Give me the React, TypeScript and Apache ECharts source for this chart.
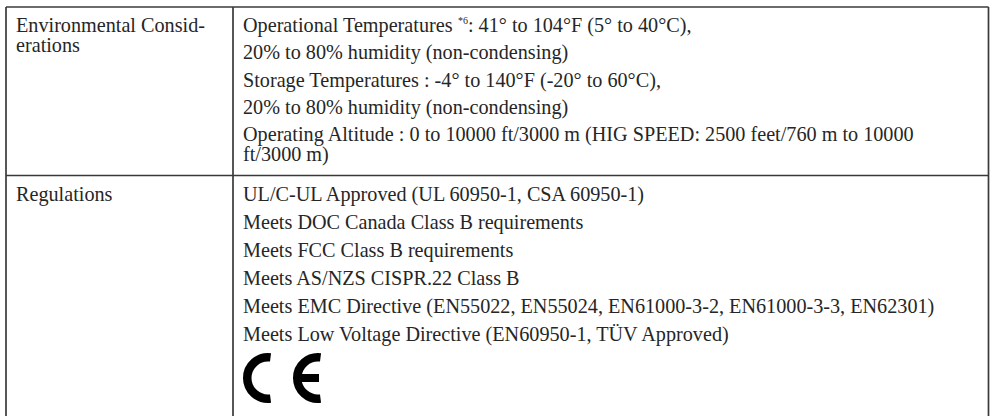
import React, { useEffect, useRef } from "react";
import * as echarts from "echarts";

const rowLabels = ["Environmental Consid-\nerations", "Regulations"];
const envLines = [
  "Operational Temperatures {sup|*6}: 41° to 104°F (5° to 40°C),",
  "20% to 80% humidity (non-condensing)",
  "Storage Temperatures : -4° to 140°F (-20° to 60°C),",
  "20% to 80% humidity (non-condensing)",
  "Operating Altitude : 0 to 10000 ft/3000 m (HIG SPEED: 2500 feet/760 m to 10000\nft/3000 m)",
];
const regLines = [
  "UL/C-UL Approved (UL 60950-1, CSA 60950-1)",
  "Meets DOC Canada Class B requirements",
  "Meets FCC Class B requirements",
  "Meets AS/NZS CISPR.22 Class B",
  "Meets EMC Directive (EN55022, EN55024, EN61000-3-2, EN61000-3-3, EN62301)",
  "Meets Low Voltage Directive (EN60950-1, TÜV Approved)",
];

const FONT = "'Liberation Serif', 'Times New Roman', serif";
const FS = 20.2;
const LH = 20;
const TEXT_COLOR = "#262626";
const LINE_COLOR = "#3a3a3a";

export default function App() {
  const ref = useRef<HTMLDivElement>(null);
  useEffect(() => {
    if (!ref.current) return;
    const chart = echarts.init(ref.current, null, { renderer: "svg" });
    const L = 6, R = 988.5, T = 7, B = 420, COL = 233, ROW = 175.5;
    const leftX = 16, rightX = 243;
    const envStart = 25.3, envStep = 27.1;
    const regStart = 194, regStep = 28;

    const textEl = (x: number, mid: number, text: string) => ({
      type: "text",
      x,
      y: mid - LH / 2,
      style: {
        text,
        fill: TEXT_COLOR,
        font: `${FS}px ${FONT}`,
        fontFamily: FONT,
        fontSize: FS,
        lineHeight: LH,
        verticalAlign: "top",
        align: "left",
        rich: {
          sup: { fontSize: 10, fontFamily: FONT, fill: TEXT_COLOR, verticalAlign: "top", lineHeight: 11 },
        },
      },
    });

    const els: any[] = [];
    const line = (x1: number, y1: number, x2: number, y2: number) => ({
      type: "line",
      shape: { x1, y1, x2, y2 },
      style: { stroke: LINE_COLOR, lineWidth: 1.7 },
    });
    els.push(line(L, T, R, T));
    els.push(line(L, T, L, B));
    els.push(line(R, T, R, B));
    els.push(line(COL, T, COL, B));
    els.push(line(L, ROW, R, ROW));

    els.push(textEl(leftX, envStart, rowLabels[0]));
    els.push(textEl(leftX, regStart, rowLabels[1]));
    envLines.forEach((t, i) => els.push(textEl(rightX, envStart + i * envStep, t)));
    regLines.forEach((t, i) => els.push(textEl(rightX, regStart + i * regStep, t)));

    // CE mark
    const cy = 378, r = 20.75, sw = 8.5;
    const a0 = (83 * Math.PI) / 180, a1 = (277 * Math.PI) / 180;
    [268, 318].forEach((cx) => {
      els.push({
        type: "arc",
        shape: { cx, cy, r, startAngle: a0, endAngle: a1, clockwise: true },
        style: { stroke: "#000", lineWidth: sw, fill: null, lineCap: "butt" },
      });
    });
    els.push({
      type: "rect",
      shape: { x: 298, y: cy - 4, width: 21, height: 8 },
      style: { fill: "#000" },
    });

    chart.setOption({ animation: false, graphic: { elements: els } });
    return () => chart.dispose();
  }, []);
  return (
    <div
      ref={ref}
      style={{ position: "fixed", left: 0, top: 0, width: 992, height: 416, background: "#fff" }}
    />
  );
}
